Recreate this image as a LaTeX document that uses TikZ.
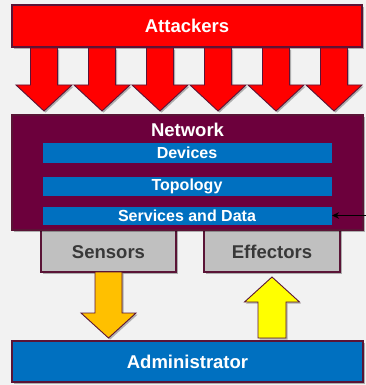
\documentclass[tikz,border=0pt]{standalone}
\usepackage{fontspec}
\setmainfont{Liberation Sans}
\usetikzlibrary{shadows,arrows.meta}

\definecolor{pagebg}{HTML}{F2F2F2}
\definecolor{attackred}{HTML}{FF0000}
\definecolor{netmaroon}{HTML}{6C003C}
\definecolor{edgemaroon}{HTML}{5A1436}
\definecolor{layerblue}{HTML}{0070C0}
\definecolor{iogray}{HTML}{C0C0C0}
\definecolor{sensororange}{HTML}{FFC000}
\definecolor{effectyellow}{HTML}{FFFF00}

% block arrow: centre x, shaft half width, head half width, start y, head base y, tip y
\newcommand\blockarrowpath[6]{%
  ({#1-#2},#4) -- ({#1-#2},#5) -- ({#1-#3},#5) -- (#1,#6) --
  ({#1+#3},#5) -- ({#1+#2},#5) -- ({#1+#2},#4) -- cycle}

\tikzset{
  softshadow/.style={drop shadow={shadow xshift=1.6pt, shadow yshift=-1.6pt, opacity=0.28, fill=black}},
  headfont/.style={font=\bfseries\fontsize{18.5}{21}\selectfont},
  panel/.style={rectangle, draw=edgemaroon, line width=1.1pt, inner sep=0pt, outer sep=0pt,
    anchor=north west, softshadow, headfont},
  layer/.style={rectangle, fill=layerblue, draw=netmaroon, line width=0.6pt, inner sep=0pt,
    outer sep=0pt, anchor=north west, minimum width=290pt, text=white,
    font=\bfseries\fontsize{16}{18}\selectfont},
  blockarrow/.style={draw=edgemaroon, line width=0.9pt, line join=miter, softshadow},
}

\begin{document}
\begin{tikzpicture}[x=1pt, y=-1pt]
  \fill[pagebg] (0,0) rectangle (366,385);
  \useasboundingbox (0,0) rectangle (366,385);

  % attackers and their six arrows
  \node[panel, fill=attackred, text=white, minimum width=350pt, minimum height=42pt]
    (attackers) at (12,5) {Attackers};
  \foreach \cx in {44,102,160,218,276,334}
    \filldraw[blockarrow, fill=attackred] \blockarrowpath{\cx}{13.5}{28}{48}{85}{111};

  % sensor and effector boxes sit behind the network panel
  \node[panel, fill=iogray, minimum width=135pt, minimum height=52pt]
    (sensors) at (41,220) {};
  \node[panel, fill=iogray, minimum width=136pt, minimum height=52pt]
    (effectors) at (204,220) {};
  \node[text=black!78, headfont] (sensorslbl) at (108.5,252) {Sensors};
  \node[text=black!78, headfont] (effectorslbl) at (272,252) {Effectors};

  % network with its three layers
  \node[panel, fill=netmaroon, minimum width=351pt, minimum height=115pt]
    (network) at (12,115) {};
  \node[text=white, headfont] (networklbl) at (187.5,130) {Network};
  \node[layer, minimum height=21pt] (devices) at (42,142) {Devices};
  \node[layer, minimum height=20pt] (topology) at (42,176) {Topology};
  \node[layer, minimum height=19pt] (services) at (42,206) {Services and Data};

  \coordinate (feed) at (366,215.5);
  \draw[black, line width=1.4pt, -{Stealth[length=7pt,width=6.5pt]}] (feed) -- (services.east);

  % administrator and its two arrows
  \node[panel, fill=layerblue, text=white, minimum width=351pt, minimum height=41pt]
    (admin) at (12,341) {Administrator};
  \filldraw[blockarrow, fill=sensororange] \blockarrowpath{108.5}{13.5}{27.5}{272}{313}{338};
  \filldraw[blockarrow, fill=effectyellow] \blockarrowpath{272}{14}{27.5}{338}{302}{277};
\end{tikzpicture}
\end{document}
